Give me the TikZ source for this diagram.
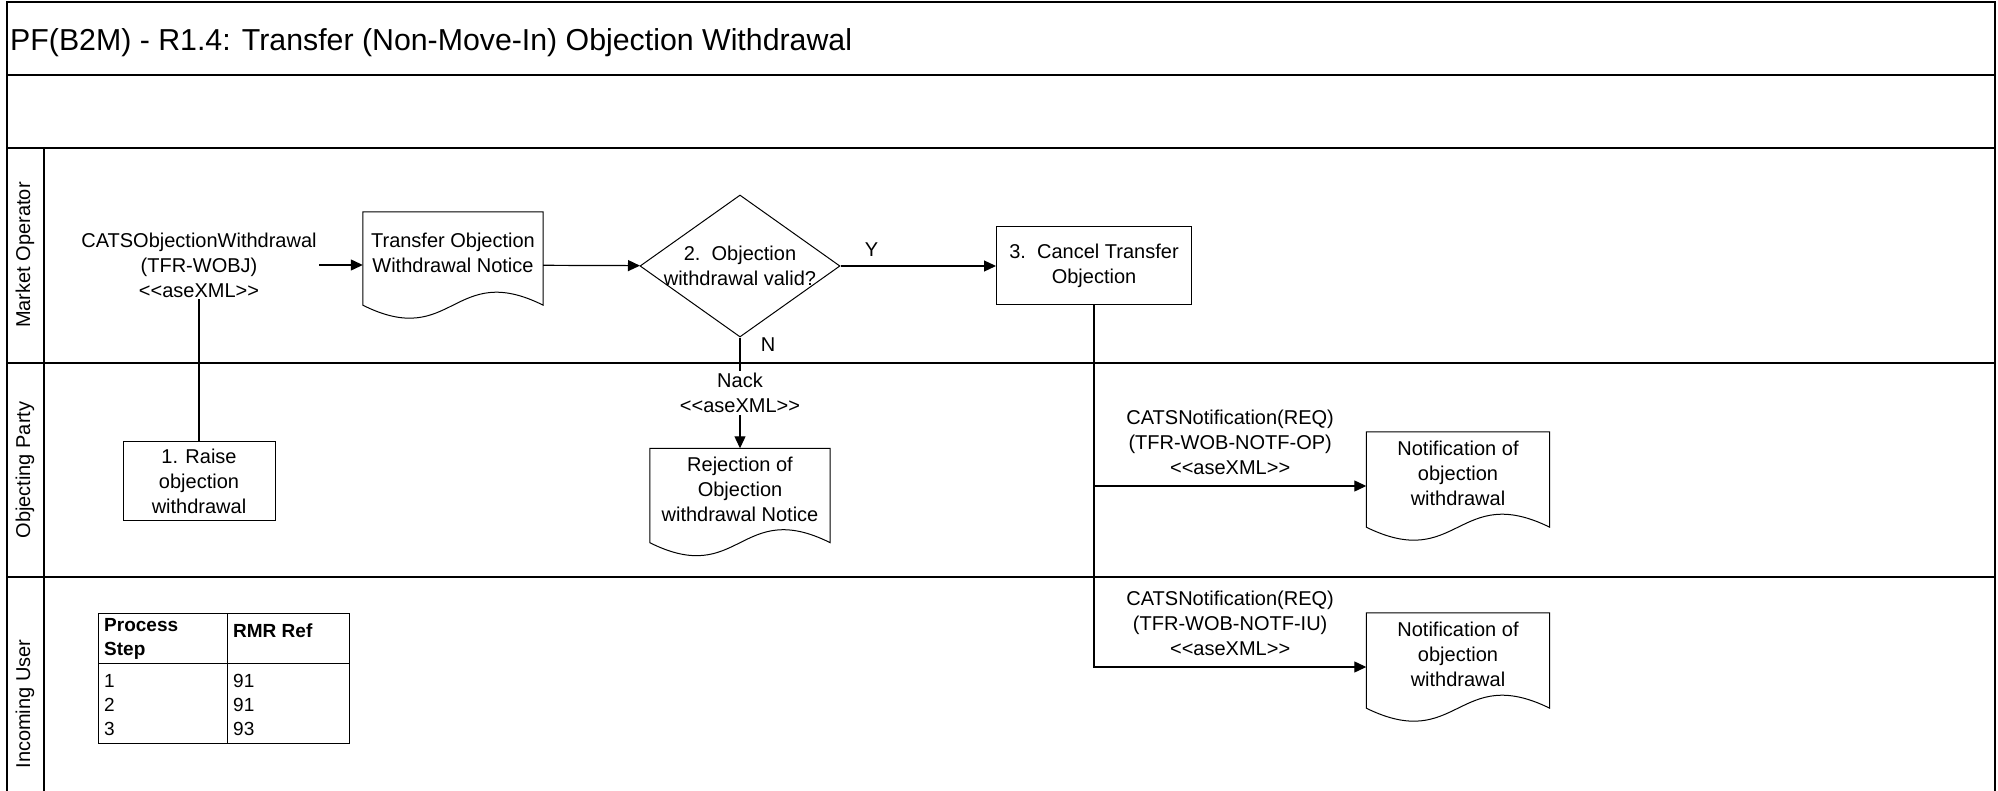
\documentclass[tikz,border=0pt]{standalone}
\usepackage{fontspec}
\setmainfont{Liberation Sans}
\usetikzlibrary{shapes,arrows,positioning,calc,arrows.meta}

% document symbol: rectangle with a wavy bottom edge
\newcommand{\docoutline}[1]{%
  \draw[boxline] (#1.north west) -- ($(#1.south west)+(0,-13)$)
    .. controls ($(#1.south)+(0,32)$) and ($(#1.south)+(0,-58)$) ..
    ($(#1.south east)+(0,-13)$) -- (#1.north east) -- cycle;}
\newcommand{\asexml}{<\kern0pt<aseXML>\kern0pt>}

\begin{document}
\begin{tikzpicture}[x=1pt, y=-1pt,
        font=\fontsize{20}{25}\selectfont,
        poolline/.style={line width=1.6pt},
        boxline/.style={line width=1pt},
        lanelbl/.style={rotate=90, inner sep=0pt},
        proc/.style={draw, boxline, rectangle, align=center, inner sep=0pt},
        decision/.style={draw, boxline, diamond, aspect=1.41, align=center, inner sep=-5pt, minimum width=200pt, minimum height=142pt},
        doc/.style={rectangle, align=center, inner sep=0pt, text depth=25pt},
        lbl/.style={align=center, inner sep=2pt},
        tbltext/.style={anchor=west, align=left, inner sep=0pt, font=\fontsize{19}{24}\selectfont},
        arrow/.style={-{Triangle[length=12pt, width=11pt]}, line width=1.2pt}
    ]
        \fill[white] (0,0) rectangle (1998,791);
        \useasboundingbox (0,0) rectangle (1998,791);

        % Pool and lanes
        \draw[poolline] (7,791) -- (7,2) -- (1995,2) -- (1995,791);
        \draw[poolline] (7,75) -- (1995,75);
        \draw[poolline] (7,148) -- (1995,148);
        \draw[poolline] (7,363) -- (1995,363);
        \draw[poolline] (7,577) -- (1995,577);
        \draw[poolline] (44,148) -- (44,791);

        \node (title) [anchor=west, inner sep=0pt, font=\fontsize{30.3}{36}\selectfont] at (10,43) {PF(B2M) - R1.4: Transfer (Non-Move-In) Objection Withdrawal};
        \node (mo) [lanelbl] at (25,255) {Market Operator};
        \node (op) [lanelbl] at (25,470) {Objecting Party};
        \node (iu) [lanelbl] at (25,704) {Incoming User};

        % Steps
        \node (raise) [proc, minimum width=152pt, minimum height=78pt] at (199,481) {1. Raise\\objection\\withdrawal};
        \node (notice) [doc, minimum width=180pt, minimum height=106pt] at (453,265) {Transfer Objection\\Withdrawal Notice};
        \node (valid) [decision] at (740,266) {2.\ \ Objection\\withdrawal valid?};
        \node (cancel) [proc, minimum width=195pt, minimum height=78pt] at (1094,266) {3.\ \ Cancel Transfer\\Objection};
        \node (reject) [doc, minimum width=180pt, minimum height=107pt] at (740,502) {Rejection of\\Objection\\withdrawal Notice};
        \node (notifop) [doc, minimum width=183pt, minimum height=108pt] at (1458,486) {Notification of\\objection\\withdrawal};
        \node (notifiu) [doc, minimum width=183pt, minimum height=108pt] at (1458,667) {Notification of\\objection\\withdrawal};
        \foreach \d in {notice,reject,notifop,notifiu} {\docoutline{\d}}

        % Messages
        \draw[arrow] (raise) |- node (wobj) [lbl, fill=white] {CATSObjectionWithdrawal\\(TFR-WOBJ)\\\asexml} (notice);
        \draw[arrow] (notice) -- (valid);
        \draw[arrow] (valid) -- node (ylbl) [lbl, above=7pt, pos=0.2] {Y} (cancel);
        \draw[arrow] (valid) -- node (nlbl) [lbl, pos=0.06, xshift=28pt] {N}
            node (nack) [lbl, fill=white] {Nack\\\asexml} (reject);
        \draw[arrow] (cancel) |- node (opmsg) [lbl, above=9pt, pos=0.75] {CATSNotification(REQ)\\(TFR-WOB-NOTF-OP)\\\asexml} (notifop);
        \draw[arrow] (cancel) |- node (iumsg) [lbl, above=9pt, pos=0.75] {CATSNotification(REQ)\\(TFR-WOB-NOTF-IU)\\\asexml} (notifiu);

        % RMR table
        \draw[boxline] (98,613) rectangle (349,743);
        \draw[boxline] (98,663) -- (349,663);
        \draw[boxline] (227,613) -- (227,743);
        \node (hstep) [tbltext, font=\fontsize{19}{24}\selectfont\bfseries] at (104,639) {Process\\Step};
        \node (hrmr) [tbltext, font=\fontsize{19}{24}\selectfont\bfseries] at (233,631) {RMR Ref};
        \foreach \s/\r [count=\i] in {1/91,2/91,3/93} {
            \node (s\i) [tbltext] at (104,{657+24*\i}) {\s};
            \node (r\i) [tbltext] at (233,{657+24*\i}) {\r};
        }
    \end{tikzpicture}
\end{document}
